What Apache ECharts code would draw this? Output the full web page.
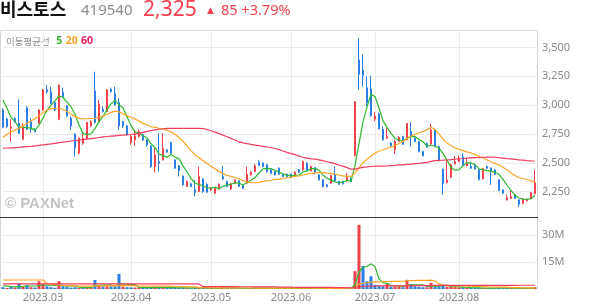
<!DOCTYPE html>
<html><head><meta charset="utf-8">
<script src="https://cdn.jsdelivr.net/npm/echarts@6/dist/echarts.min.js"></script>
<style>html,body{margin:0;padding:0;background:#fff}#c{width:594px;height:304px}</style>
</head><body><div id="c"></div>
<script>
const dates = ['2023.02.15','2023.02.16','2023.02.17','2023.02.20','2023.02.21','2023.02.22','2023.02.23','2023.02.24','2023.02.27','2023.02.28',
'2023.03.02','2023.03.03','2023.03.06','2023.03.07','2023.03.08','2023.03.09','2023.03.10','2023.03.13','2023.03.14','2023.03.15','2023.03.16','2023.03.17','2023.03.20','2023.03.21','2023.03.22','2023.03.23','2023.03.24','2023.03.27','2023.03.28','2023.03.29','2023.03.30','2023.03.31',
'2023.04.03','2023.04.04','2023.04.05','2023.04.06','2023.04.07','2023.04.10','2023.04.11','2023.04.12','2023.04.13','2023.04.14','2023.04.17','2023.04.18','2023.04.19','2023.04.20','2023.04.21','2023.04.24','2023.04.25','2023.04.26','2023.04.27','2023.04.28',
'2023.05.02','2023.05.03','2023.05.04','2023.05.08','2023.05.09','2023.05.10','2023.05.11','2023.05.12','2023.05.15','2023.05.16','2023.05.17','2023.05.18','2023.05.19','2023.05.22','2023.05.23','2023.05.24','2023.05.25','2023.05.26','2023.05.30','2023.05.31',
'2023.06.01','2023.06.02','2023.06.05','2023.06.07','2023.06.08','2023.06.09','2023.06.12','2023.06.13','2023.06.14','2023.06.15','2023.06.16','2023.06.19','2023.06.20','2023.06.21','2023.06.22','2023.06.23','2023.06.26','2023.06.27','2023.06.28','2023.06.29','2023.06.30',
'2023.07.03','2023.07.04','2023.07.05','2023.07.06','2023.07.07','2023.07.10','2023.07.11','2023.07.12','2023.07.13','2023.07.14','2023.07.17','2023.07.18','2023.07.19','2023.07.20','2023.07.21','2023.07.24','2023.07.25','2023.07.26','2023.07.27','2023.07.28','2023.07.31',
'2023.08.01','2023.08.02','2023.08.03','2023.08.04','2023.08.07','2023.08.08','2023.08.09','2023.08.10','2023.08.11','2023.08.14','2023.08.16','2023.08.17','2023.08.18','2023.08.21','2023.08.22','2023.08.23','2023.08.24','2023.08.25','2023.08.28','2023.08.29'];

const monthStarts = ['2023.03.02','2023.04.03','2023.05.02','2023.06.01','2023.07.03','2023.08.01'];
const monthLabels = ['2023.03','2023.04','2023.05','2023.06','2023.07','2023.08'];
const priceTicks = [2250, 2500, 2750, 3000, 3250, 3500];
const volumeTicks = [15000000, 30000000];
const volumeTickLabels = ['15M', '30M'];

const open = [2958,2880,2799,2883,2843,2704,2976,2857,2791,2843, 2958,3132,3117,3022,2877,3111,2993,2886,2750,2583,
 2669,2713,2820,3123,2857,2964,2944,3137,3103,3022, 2857,2820,2675,2698,2727,2742,2698,2646,2467,2510,
 2525,2612,2675,2525,2473,2386,2294,2317,2265,2250, 2360,2314,2265,2236,2274,2380,2337,2274,2323,2343,
 2302,2323,2395,2424,2505,2496,2482,2438,2424,2453, 2401,2401,2401,2395,2438,2438,2496,2430,2458,2395,
 2352,2308,2323,2395,2337,2337,2343,2366,2562,3392, 3305,3150,3140,2880,2925,2790,2713,2670,2615,2684,
 2727,2700,2770,2713,2684,2597,2669,2664,2785,2640, 2444,2328,2375,2490,2510,2550,2476,2467,2467,2438,
 2362,2467,2453,2438,2352,2265,2178,2190,2222,2178, 2149,2170,2193,2232];
const close = [2808,2815,2810,2857,2756,2808,2791,2791,2770,2958, 3132,3117,3016,2958,3175,3074,2906,2820,2626,2713,
 2710,2849,2857,2850,3010,2944,3132,3117,3002,2820, 2820,2742,2727,2733,2770,2698,2655,2467,2568,2496,
 2623,2592,2583,2453,2430,2308,2337,2294,2242,2381, 2250,2245,2285,2280,2314,2360,2294,2317,2351,2294,
 2279,2400,2418,2473,2476,2467,2424,2409,2395,2401, 2381,2381,2372,2418,2418,2511,2430,2467,2418,2352,
 2294,2294,2389,2343,2314,2317,2380,2337,3030,3267, 3260,3020,2910,2905,2795,2700,2727,2648,2684,2720,
 2660,2840,2733,2684,2597,2560,2635,2785,2640,2519, 2317,2351,2482,2510,2540,2482,2496,2453,2447,2355,
 2450,2453,2430,2400,2260,2236,2198,2205,2190,2140, 2187,2185,2240,2325];
const low = [2800,2800,2684,2850,2750,2695,2785,2760,2765,2835, 2950,3100,3010,2950,2870,3065,2900,2785,2554,2575,
 2655,2705,2815,2840,2850,2935,2940,3110,2995,2785, 2800,2735,2655,2646,2720,2690,2640,2453,2415,2424,
 2520,2585,2575,2445,2381,2300,2290,2288,2207,2245, 2240,2240,2255,2230,2265,2350,2290,2262,2318,2290,
 2270,2318,2390,2420,2470,2460,2415,2400,2390,2395, 2375,2375,2368,2390,2410,2432,2425,2425,2400,2345,
 2285,2285,2318,2338,2308,2310,2335,2330,2555,3132, 3160,2990,2900,2860,2790,2690,2705,2640,2575,2680,
 2655,2695,2640,2678,2590,2554,2630,2655,2635,2510, 2222,2320,2370,2485,2505,2475,2470,2445,2440,2345,
 2355,2445,2308,2395,2255,2230,2172,2185,2185,2117, 2140,2165,2188,2225];
const high = [2975,2890,2880,2895,3051,2843,2990,2886,2800,2965, 3140,3175,3161,3030,3180,3152,3000,2900,2756,2720,
 2756,2855,2870,3290,3045,2990,3140,3152,3161,3060, 2865,2830,2742,2785,2790,2750,2705,2650,2640,2756,
 2756,2620,2680,2530,2480,2390,2345,2325,2352,2467, 2365,2320,2290,2285,2320,2473,2345,2325,2355,2350,
 2310,2467,2425,2490,2525,2505,2490,2445,2430,2460, 2410,2405,2408,2425,2445,2518,2505,2475,2465,2400,
 2360,2315,2395,2467,2345,2345,2410,2372,3035,3580, 3440,3250,3256,2940,2935,2815,2800,2680,2700,2730,
 2735,2845,2850,2720,2690,2605,2675,2840,2790,2645, 2450,2540,2490,2560,2565,2580,2540,2510,2495,2445,
 2455,2475,2460,2445,2356,2270,2225,2260,2228,2182, 2192,2190,2245,2440];
// volume in millions of shares
const volumeM = [1.0,0.6,1.2,0.8,3.0,1.3,2.2,1.0,0.8,4.3, 2.8,1.5,1.0,0.7,4.3,1.5,1.2,0.8,1.0,0.6,
 0.7,0.9,0.8,5.0,1.9,1.4,1.5,1.4,1.3,8.4, 1.3,1.0,0.9,0.8,0.9,0.6,0.5,0.9,1.2,0.8,
 1.0,0.6,0.6,0.7,0.6,0.8,0.5,0.4,0.6,0.9, 0.5,0.4,0.3,0.3,0.4,1.5,0.5,0.4,0.4,0.4,
 0.3,0.6,0.5,0.6,0.5,0.4,0.4,0.3,0.3,0.4, 0.3,0.3,0.3,0.3,0.3,0.6,0.5,0.4,0.4,0.4,
 0.4,0.3,0.5,0.5,0.3,0.3,1.0,0.4,9.9,35.6, 12.8,4.3,7.1,2.3,1.9,1.5,2.8,1.2,1.3,1.2,
 1.0,5.1,2.8,1.5,1.2,1.0,0.9,3.4,1.5,1.5, 1.8,1.2,1.3,1.0,0.9,1.0,0.6,0.5,0.5,0.6,
 0.6,0.5,0.5,0.5,0.8,0.6,0.5,0.5,0.4,0.6, 0.5,0.4,0.6,1.0];

// moving-average values before the window is full (earlier history not shown)
const ma5Head = [3045,2973,2895,2857];
const ma20Head = [2721,2745,2768,2785,2799,2820,2843,2863,2883,2906,2935,2958,2970,2973,2973,2964,2944,2924,2900];
const ma60Head = [2626,2628,2630,2632,2634,2637,2640,2643,2647,2651,2655,2660,2664,2669,2674,2679,2684,2689,2693,2697,
 2701,2705,2709,2713,2719,2724,2728,2731,2734,2737,2740,2743,2745,2748,2755,2764,2772,2780,2786,2791,
 2795,2798,2799,2799,2799,2799,2799,2799,2799,2799,2797,2789,2778,2766,2753,2740,2726,2712,2698];
const vma5Head = [1.8,1.6,1.4,1.2];
const vma20Head = [5.0,5.0,5.0,5.0,5.0,5.0,5.0,5.0,5.0,5.0,5.0,2.9,2.6,2.4,2.2,2.0,1.9,1.8,1.7];
const vma60Head = [2.8,2.8,2.8,2.8,2.8,2.8,2.8,2.8,2.8,2.8,2.8,2.8,2.8,2.8,2.8,2.8,2.8,2.8,2.8,2.8,
 2.8,2.8,2.8,2.8,2.8,2.8,2.8,2.8,2.8,2.8,2.8,2.8,2.8,2.8,2.8,2.8,2.8,2.8,2.8,2.8,
 2.8,2.8,2.8,2.8,2.8,2.8,2.8,2.8,2.8,2.8,1.3,1.3,1.3,1.3,1.3,1.3,1.3,1.3,1.3];

const RED = '#f2404c', BLUE = '#2a7fe6';
const C5 = '#2eb82e', C20 = '#ffa526', C60 = '#f23d5c';

function movingAvg(src, n, head, scale) {
  return src.map((v, i) => {
    if (i < n - 1) return head[i] * scale;
    let s = 0; for (let k = i - n + 1; k <= i; k++) s += src[k];
    return s / n;
  });
}
const candles = dates.map((d, i) => [open[i], close[i], low[i], high[i]]);
const volume = volumeM.map(v => v * 1e6);
const volBars = volume.map((v, i) => ({
  value: v,
  itemStyle: { color: (i === 0 ? close[i] >= open[i] : close[i] >= close[i - 1]) ? RED : BLUE }
}));
const ma5 = movingAvg(close, 5, ma5Head, 1);
const ma20 = movingAvg(close, 20, ma20Head, 1);
const ma60 = movingAvg(close, 60, ma60Head, 1);
const vma5 = movingAvg(volume, 5, vma5Head, 1e6);
const vma20 = movingAvg(volume, 20, vma20Head, 1e6);
const vma60 = movingAvg(volume, 60, vma60Head, 1e6);

const isMonthStart = (idx, val) => monthStarts.indexOf(val) >= 0;
const FONT = '"Noto Sans", "Noto Sans CJK KR", sans-serif';

const chart = echarts.init(document.getElementById('c'), null, { renderer: 'canvas' });
const lineS = (name, data, color, xi, yi) => ({
  name, type: 'line', data, xAxisIndex: xi, yAxisIndex: yi, symbol: 'none', smooth: false,
  lineStyle: { color, width: 1.2 }, silent: true, z: 3
});
chart.setOption({
  animation: false,
  textStyle: { fontFamily: FONT },
  grid: [
    { left: 3, right: 59, top: 30, height: 187.5 },
    { left: 3, right: 59, top: 218, height: 71 }
  ],
  xAxis: [
    { type: 'category', data: dates, gridIndex: 0, boundaryGap: false,
      axisLine: { show: false }, axisTick: { show: false }, axisLabel: { show: false },
      splitLine: { show: true, interval: isMonthStart, lineStyle: { color: '#ebebeb', width: 1 } } },
    { type: 'category', data: dates, gridIndex: 1, boundaryGap: false,
      axisLine: { show: false }, axisTick: { show: false },
      axisLabel: { show: true, interval: isMonthStart, margin: 3, color: '#8a8a8a', fontSize: 11, fontFamily: FONT,
        formatter: v => monthLabels[monthStarts.indexOf(v)] },
      splitLine: { show: true, interval: isMonthStart, lineStyle: { color: '#ebebeb', width: 1 } } }
  ],
  yAxis: [
    { type: 'value', gridIndex: 0, position: 'right', min: 2025, max: 3652, scale: true,
      axisLine: { show: false },
      axisTick: { show: false, customValues: priceTicks },
      axisLabel: { customValues: priceTicks, color: '#8a8a8a', fontSize: 11, margin: 7, fontFamily: FONT,
        padding: [4, 0, 0, 0],
        formatter: v => v.toLocaleString('en-US') },
      splitLine: { show: true, lineStyle: { color: '#ebebeb', width: 1 } } },
    { type: 'value', gridIndex: 1, position: 'right', min: 0, max: 39400000,
      axisLine: { show: false },
      axisTick: { show: false, customValues: volumeTicks },
      axisLabel: { customValues: volumeTicks, color: '#8a8a8a', fontSize: 11, margin: 7, fontFamily: FONT,
        padding: [4, 0, 0, 0],
        formatter: v => volumeTickLabels[volumeTicks.indexOf(v)] },
      splitLine: { show: true, lineStyle: { color: '#ebebeb', width: 1 } } }
  ],
  series: [
    { name: 'price', type: 'candlestick', data: candles, xAxisIndex: 0, yAxisIndex: 0, barWidth: 2,
      itemStyle: { color: RED, color0: BLUE, borderColor: RED, borderColor0: BLUE, borderWidth: 1 }, z: 2 },
    lineS('MA5', ma5, C5, 0, 0),
    lineS('MA20', ma20, C20, 0, 0),
    lineS('MA60', ma60, C60, 0, 0),
    { name: 'volume', type: 'bar', data: volBars, xAxisIndex: 1, yAxisIndex: 1, barWidth: 3, z: 2 },
    lineS('VMA5', vma5, C5, 1, 1),
    lineS('VMA20', vma20, C20, 1, 1),
    lineS('VMA60', vma60, C60, 1, 1)
  ],
  graphic: [
    { type: 'rect', shape: { x: 0.5, y: 30.5, width: 537, height: 258 }, style: { fill: null, stroke: '#d6d6d6', lineWidth: 1 }, silent: true, z: 0 },
    { type: 'line', shape: { x1: 0, y1: 217.5, x2: 538, y2: 217.5 }, style: { stroke: '#333', lineWidth: 1 }, silent: true, z: 10 },
    { type: 'text', left: 0, top: 0, style: { text: '비스토스', font: 'bold 18px "Noto Sans CJK KR"', fill: '#111' } },
    { type: 'text', left: 81, top: 3, style: { text: '419540', font: '15px "Noto Sans"', fill: '#8c8c8c' } },
    { type: 'text', left: 143, top: 0, style: { text: '2,325', font: '21px "Noto Sans"', fill: RED } },
    { type: 'text', left: 207, top: 6, style: { text: '▲', font: '9px "DejaVu Sans"', fill: RED } },
    { type: 'text', left: 221, top: 3, style: { text: '85 +3.79%', font: '14.5px "Noto Sans"', fill: RED } },
    { type: 'text', left: 6, top: 35, style: {
        rich: { a: { fontSize: 9.5, fill: '#8a8a8a', fontFamily: 'Noto Sans CJK KR' },
                g: { fontSize: 10.5, fill: C5, fontWeight: 'bold', fontFamily: 'Noto Sans' },
                o: { fontSize: 10.5, fill: C20, fontWeight: 'bold', fontFamily: 'Noto Sans' },
                r: { fontSize: 10.5, fill: '#e8205a', fontWeight: 'bold', fontFamily: 'Noto Sans' } },
        text: '{a|이동평균선}  {g|5} {o|20} {r|60}' } },
    { type: 'text', left: 5, top: 196, style: { text: '© PAXNet', font: 'bold 15px "Liberation Sans"', fill: '#c4c4c4' }, z: 1 }
  ]
});
</script></body></html>
